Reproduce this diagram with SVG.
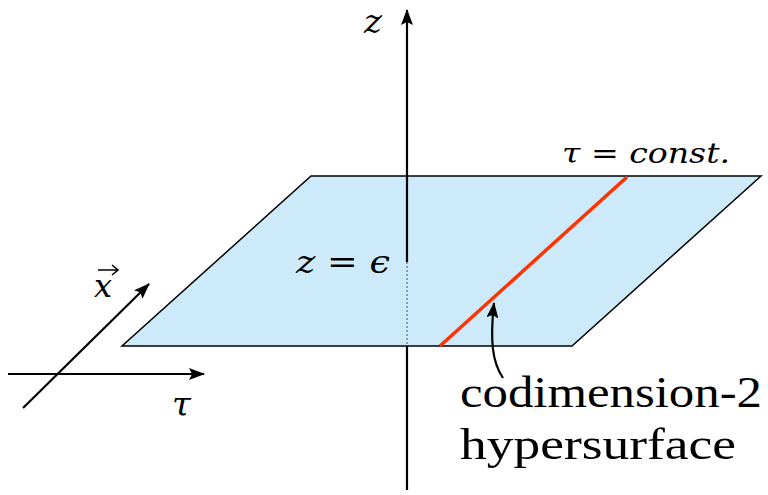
<svg xmlns="http://www.w3.org/2000/svg" width="768" height="495" viewBox="0 0 768 495">
<style>
.ax{stroke:#000;stroke-width:2.2;fill:none}
.t{font-family:"Liberation Serif",serif;fill:#000}
.m{font-family:"DejaVu Serif","Liberation Serif",serif;fill:#000}
.i{font-style:italic}
</style>
<defs>
<marker id="a2" viewBox="0 0 16 12" refX="15" refY="6" markerWidth="16" markerHeight="12" markerUnits="userSpaceOnUse" orient="auto">
<path d="M0,0 L16,6 L0,12 L3,6 Z" fill="#000"/>
</marker>
</defs>
<g id="plane">
<polygon points="311,176 761,176 572,346 122,346" fill="#cdeafb" stroke="#000" stroke-width="1.5"/>
</g>
<g id="connectors">
<line class="ax" x1="407" y1="262" x2="407" y2="10" marker-end="url(#a2)"/>
<line x1="407" y1="262" x2="407" y2="346" stroke="#8a9aa8" stroke-width="2" stroke-dasharray="2,2"/>
<line class="ax" x1="407" y1="346" x2="407" y2="490"/>
<line x1="440" y1="346" x2="627" y2="177" stroke="#ff3300" stroke-width="3.5"/>
<path class="ax" d="M503,378 C492,362 490,340 494,303" marker-end="url(#a2)"/>
<line class="ax" x1="8" y1="374" x2="204" y2="374" marker-end="url(#a2)"/>
<line class="ax" x1="23" y1="408" x2="149" y2="284" marker-end="url(#a2)"/>
</g>
<g id="labels">
<text class="m i" x="364" y="33" font-size="34">z</text>
<text class="m" x="562" y="163" font-size="28" textLength="168" lengthAdjust="spacingAndGlyphs"><tspan class="i">τ</tspan> = <tspan class="i">const.</tspan></text>
<text class="m" x="296" y="273" font-size="32" textLength="94" lengthAdjust="spacingAndGlyphs"><tspan class="i">z</tspan> = <tspan class="i">ϵ</tspan></text>
<text class="m i" x="94" y="297" font-size="32">x</text>
<path d="M98,270 L117,270 M112,265 L118,270 L112,275" stroke="#000" stroke-width="1.6" fill="none"/>
<text class="m i" x="172" y="416" font-size="34">τ</text>
<text class="t" x="460" y="407" font-size="44" textLength="302" lengthAdjust="spacingAndGlyphs">codimension-2</text>
<text class="t" x="460" y="459" font-size="44" textLength="276" lengthAdjust="spacingAndGlyphs">hypersurface</text>
</g>
</svg>
